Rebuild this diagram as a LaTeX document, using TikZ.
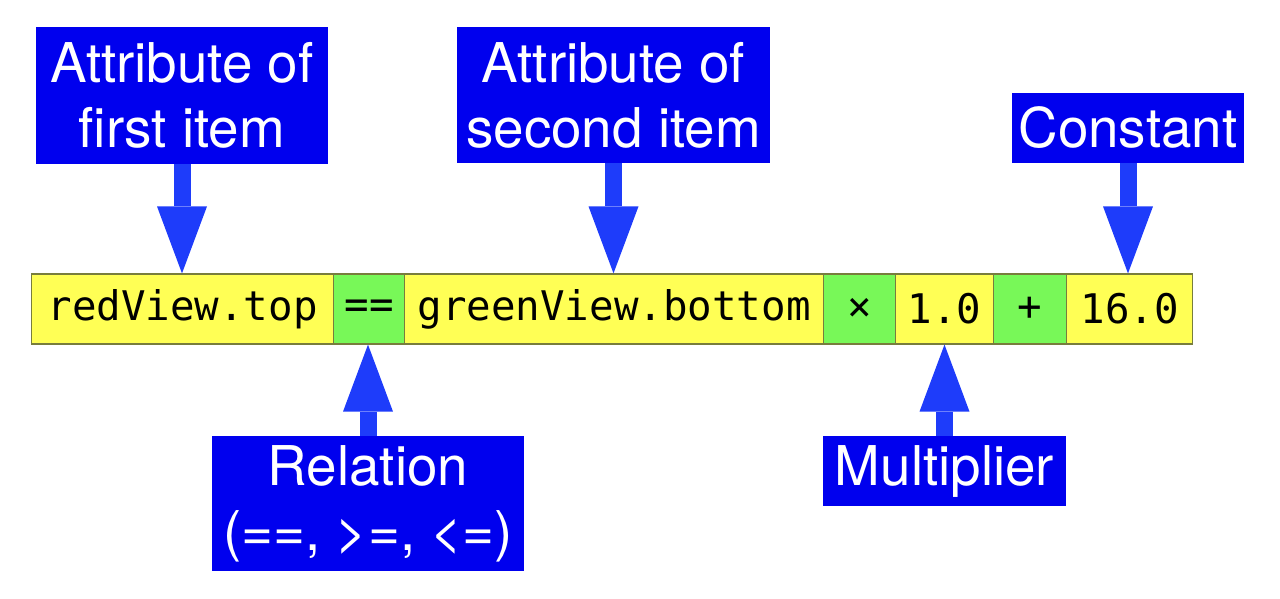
\documentclass[tikz,border=0pt]{standalone}
\usepackage{fontspec}
\setmainfont{TeX Gyre Heros}
\newfontfamily\codefont{DejaVu Sans Mono}
\usetikzlibrary{arrows.meta}
\definecolor{boxblue}{RGB}{0,0,238}
\definecolor{arrowblue}{RGB}{30,60,250}
\definecolor{celly}{RGB}{255,255,85}
\definecolor{cellg}{RGB}{120,248,88}
\definecolor{cellline}{RGB}{120,125,60}
\tikzset{
  cell/.style={draw=cellline, line width=0.6pt, minimum height=35pt, inner sep=0pt,
    font=\codefont\fontsize{20.4}{24}\selectfont, anchor=west, text=black},
  ycell/.style={cell, fill=celly},
  gcell/.style={cell, fill=cellg},
  tag/.style={fill=boxblue, text=white, inner sep=0pt, align=center,
    font=\fontsize{27.4}{32.5}\selectfont},
  pointer/.style={draw=arrowblue, line width=8.5pt,
    -{Triangle[width=25pt,length=33.5pt,line width=0pt]}}
}
\begin{document}
\begin{tikzpicture}[x=0.5pt,y=-0.5pt]
\useasboundingbox (0,0) rectangle (1280,599);
% expression bar
\node[ycell, minimum width=151pt]   (c1) at (31,309)   {redView.top};
\node[gcell, minimum width=35.5pt]  (c2) at (333,309)  {==};
\node[ycell, minimum width=209.5pt] (c3) at (404,309)  {greenView.bottom};
\node[gcell, minimum width=36pt]    (c4) at (823,309)  {×};
\node[ycell, minimum width=49pt]    (c5) at (895,309)  {1.0};
\node[gcell, minimum width=36.5pt]  (c6) at (993,309)  {+};
\node[ycell, minimum width=63pt]    (c7) at (1066,309) {16.0};
% labels
\node[tag, minimum width=146pt, minimum height=68.5pt]  (l1) at (182,95.5)   {Attribute of\\first item};
\node[tag, minimum width=156.5pt, minimum height=68pt]  (l2) at (613.5,95)   {Attribute of\\second item};
\node[tag, minimum width=116pt, minimum height=35pt]    (l3) at (1128,128)   {Constant};
\node[tag, minimum width=156pt, minimum height=67.5pt]  (l4) at (368,503.5)  {Relation\\(==, >=, <=)};
\node[tag, minimum width=121.5pt, minimum height=35pt]  (l5) at (944.5,471)  {Multiplier};
% pointers
\draw[pointer] (l1.south) -- (l1.south |- c1.north);
\draw[pointer] (l2.south) -- (l2.south |- c3.north);
\draw[pointer] (l3.south) -- (l3.south |- c7.north);
\draw[pointer] (l4.north) -- (l4.north |- c2.south);
\draw[pointer] (l5.north) -- (l5.north |- c5.south);
\end{tikzpicture}
\end{document}
